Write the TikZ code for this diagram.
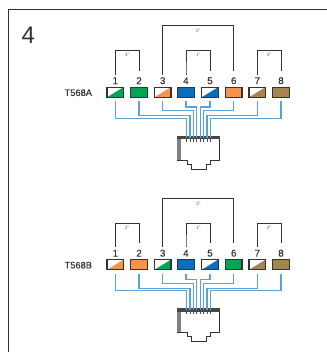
\documentclass[tikz,border=0pt]{standalone}
\usepackage{fontspec}
\setmainfont{Liberation Sans}
\newfontfamily\medfont[FakeBold=0.25]{Liberation Sans}
\newfontfamily\heavyfont[FakeBold=0.5]{Liberation Sans}
\definecolor{cgreen}{HTML}{00A651}
\definecolor{corange}{HTML}{F7934C}
\definecolor{cblue}{HTML}{0B6FBD}
\definecolor{cbrown}{HTML}{A6844F}
\definecolor{cwire}{HTML}{5AA2DA}
\definecolor{cink}{HTML}{333333}
\tikzset{
  pinbox/.style 2 args={draw=cink,line width=1.1bp,fill=#1,inner sep=0pt,
    minimum width=16.6bp,minimum height=10.2bp,
    path picture={\fill[#2] (path picture bounding box.south west) -- (path picture bounding box.south east) -- (path picture bounding box.north east) -- cycle;}},
  pinnum/.style={inner sep=0pt,minimum height=9bp,text=cink,font=\medfont\fontsize{9.8bp}{10bp}\selectfont},
  stdname/.style={inner sep=0pt,text=cink,font=\heavyfont\fontsize{9.3bp}{10bp}\selectfont},
  pairlen/.style={inner sep=0pt,text=black!60,font=\fontsize{4.8bp}{5bp}\selectfont},
  bracket/.style={draw=cink,line width=0.9bp,shorten <=1.8bp,shorten >=1.8bp},
  wire/.style={draw=cwire,line width=1.1bp,shorten <=3.6bp},
  pintip/.style={draw=black!70,line width=1bp},
  frameline/.style={draw=cink,line width=1.2bp},
  jackoutline/.style={draw=cink,line width=1bp,fill=white},
  jackband/.style={fill=black!50},
  jacktop/.style={fill=black!72}
}
\newcommand{\wiringpanel}[8]{%
  % #1 prefix, #2 shift, #3 standard, #4-#7 pair labels, #8 box list
  \begin{scope}[shift={(0,#2)}]
    \node[stdname] (#1name) at (78.3,92.7) {#3};
    \foreach \i/\x/\b/\t in {#8}{
      \node[pinnum] (#1n\i) at (\x,80.7) {\i};
      \node[pinbox={\b}{\t}] (#1b\i) at (\x,92.2) {};
    }
    % jack
    \node[inner sep=0pt,minimum size=0pt] (#1jack) at (198.2,136) {};
    \draw[jackoutline] (177,136) -- (219.3,136) -- (219.3,160) -- (210,160) -- (210,164) -- (206,164) -- (206,169.3) -- (191.7,169.3) -- (191.7,164) -- (187.3,164) -- (187.3,160) -- (177,160) -- cycle;
    \fill[jackband] (176.6,136) rectangle (181.3,160);
    \fill[jacktop] (176.6,135.6) rectangle (219.7,139);
    \draw[cink,line width=1bp] (177,160) -- (187.3,160);
    % wires
    \foreach \i/\xp/\yw in {1/186.6/118.4,2/190/115.6,3/193.4/110.9,4/196.8/107,5/200.2/107,6/203.6/110.9,7/207/115.6,8/210.4/118.4}{
      \coordinate (#1p\i) at (\xp,137.5);
      \coordinate (#1t\i) at (\xp,141.8);
      \draw[wire] (#1b\i.south) |- (\xp,\yw) -- (#1p\i);
      \draw[pintip] (#1p\i) -- (#1t\i);
    }
    % pair brackets
    \draw[bracket] (#1n1.north) -- ++(0,-2.5) |- (139,50.7) -- (#1n2.north |- 0,72.5);
    \draw[bracket] (#1n4.north) -- ++(0,-2.5) |- (210,50.7) -- (#1n5.north |- 0,72.5);
    \draw[bracket] (#1n7.north) -- ++(0,-2.5) |- (281,50.7) -- (#1n8.north |- 0,72.5);
    \draw[bracket] (#1n3.north) -- ++(0,-2.5) |- (233.7,25.7) -- (#1n6.north |- 0,72.5);
    \node[pairlen] (#1l12) at (127,55) {#4};
    \node[pairlen] (#1l36) at (198.3,31) {#5};
    \node[pairlen] (#1l45) at (198.3,55) {#6};
    \node[pairlen] (#1l78) at (269,55) {#7};
  \end{scope}
}
\begin{document}
\begin{tikzpicture}[x=1bp,y=-1bp]
  \useasboundingbox (0,0) rectangle (327,352);
  \fill[white] (0,0) rectangle (327,352);
  \draw[frameline] (8.7,352) -- (8.7,9.3) -- (327,9.3);
  \node[inner sep=0pt,text=cink,font=\fontsize{24bp}{26bp}\selectfont] (panelno) at (28.3,35.5) {4};
  \wiringpanel{a}{0}{T568A}{3"}{2"}{1"}{4"}{1/115.3/white/cgreen,2/139/cgreen/cgreen,3/162.7/white/corange,4/186/cblue/cblue,5/210/white/cblue,6/233.7/corange/corange,7/257.3/white/cbrown,8/281/cbrown/cbrown}
  \wiringpanel{b}{172.5}{T568B}{2"}{3"}{1"}{4"}{1/115.3/white/corange,2/139/corange/corange,3/162.7/white/cgreen,4/186/cblue/cblue,5/210/white/cblue,6/233.7/cgreen/cgreen,7/257.3/white/cbrown,8/281/cbrown/cbrown}
\end{tikzpicture}
\end{document}
